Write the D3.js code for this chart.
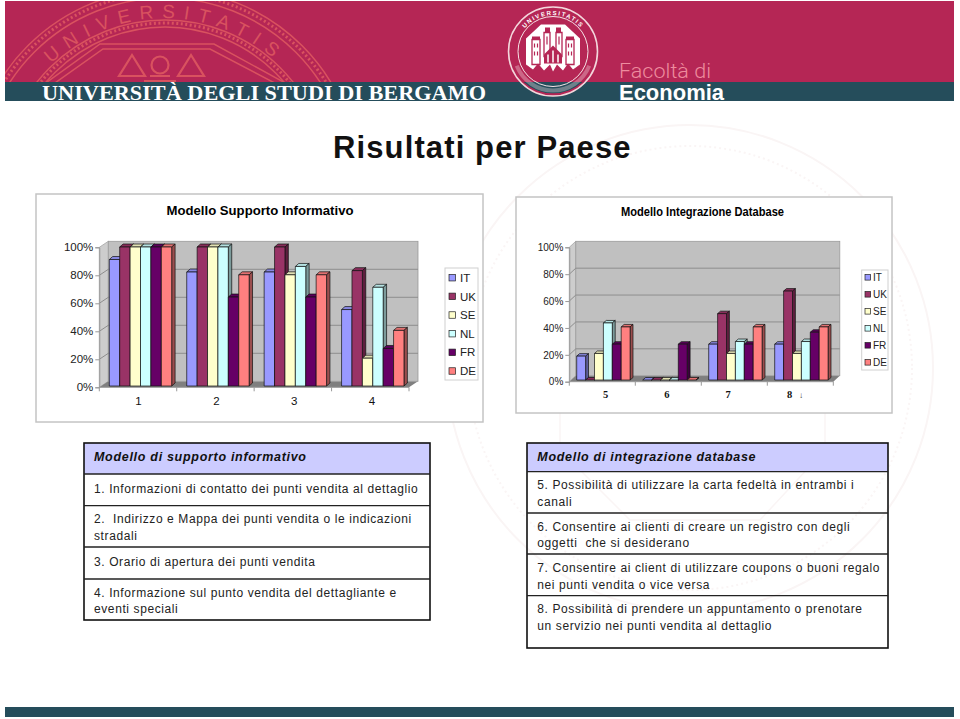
<!DOCTYPE html>
<html><head><meta charset="utf-8">
<script src="https://cdn.jsdelivr.net/npm/d3@7/dist/d3.min.js"></script>
<style>html,body{margin:0;padding:0;background:#fff}svg{display:block}text{font-family:"Liberation Sans",Arial,sans-serif;white-space:pre}</style>
</head><body><svg id="c" width="960" height="719"></svg>
<script>
// ---------- data ----------
const seriesNames = ["IT","UK","SE","NL","FR","DE"];
const seriesColors = ["#9999FF","#993366","#FFFFCC","#CCFFFF","#660066","#FF8080"];
const tickValues = [0,20,40,60,80,100];
const categoriesA = ["1","2","3","4"];
const supportIT = [91,82,82,55];
const supportUK = [100,100,100,83];
const supportSE = [100,100,80,20];
const supportNL = [100,100,86,71];
const supportFR = [100,64,64,27];
const supportDE = [100,80,80,40];
const categoriesB = ["5","6","7","8"];
const integrationIT = [18,0,27,27];
const integrationUK = [0,0,50,67];
const integrationSE = [20,0,20,20];
const integrationNL = [43,0,29,29];
const integrationFR = [27,27,27,36];
const integrationDE = [40,0,40,40];
const tableAHeader = "Modello di supporto informativo";
const tableARows = [["1. Informazioni di contatto dei punti vendita al dettaglio"],
 ["2.  Indirizzo e Mappa dei punti vendita o le indicazioni","stradali"],
 ["3. Orario di apertura dei punti vendita"],
 ["4. Informazione sul punto vendita del dettagliante e","eventi speciali"]];
const tableBHeader = "Modello di integrazione database";
const tableBRows = [["5. Possibilità di utilizzare la carta fedeltà in entrambi i","canali"],
 ["6. Consentire ai clienti di creare un registro con degli","oggetti  che si desiderano"],
 ["7. Consentire ai client di utilizzare coupons o buoni regalo","nei punti vendita o vice versa"],
 ["8. Possibilità di prendere un appuntamento o prenotare","un servizio nei punti vendita al dettaglio"]];

const svg = d3.select("#c");
const CRIM="#B52655", TEAL="#254D5B", PINK="#D9525F";

// ---------- page watermark ----------
const wm = svg.append("g").attr("fill","none").attr("stroke","#FAF5F5");
wm.append("circle").attr("cx",690).attr("cy",368).attr("r",243).attr("stroke-width",2);
wm.append("circle").attr("cx",690).attr("cy",368).attr("r",222).attr("stroke-width",2).attr("stroke-dasharray","2 3");
wm.append("path").attr("d","M560 290L630 230H760L825 290V450L760 520H630L560 450Z").attr("stroke-width",1.5);

// ---------- banner ----------
svg.append("rect").attr("x",5).attr("y",1).attr("width",949).attr("height",81).attr("fill",CRIM);
svg.append("rect").attr("x",5).attr("y",82).attr("width",949).attr("height",19).attr("fill",TEAL);
svg.append("rect").attr("x",5).attr("y",707).attr("width",949).attr("height",10).attr("fill",TEAL);
const defs = svg.append("defs");
defs.append("clipPath").attr("id","bclip").append("rect").attr("x",5).attr("y",1).attr("width",949).attr("height",81);
const big = svg.append("g").attr("clip-path","url(#bclip)").attr("fill","none").attr("stroke",PINK);
const CX=165,CY=183;
[[194,1.5,null],[190,3,"2 2.5"],[185,1.5,null],[163,1.5,null],[160,3,"2 2.5"],[156,1.5,null]].forEach(([r,w,d])=>
  big.append("circle").attr("cx",CX).attr("cy",CY).attr("r",r).attr("stroke-width",w).attr("stroke-dasharray",d));
big.append("path").attr("d","M36 90L100 44H214L298 90").attr("stroke-width",1.5);
big.append("path").attr("d","M45 90L103 49H210L288 90").attr("stroke-width",1.5);
big.append("path").attr("d","M132 55L119 76H145ZM191 55L178 76H204Z").attr("stroke-width",2.2);
big.append("circle").attr("cx",160).attr("cy",65).attr("r",8.5).attr("stroke-width",2.2);
big.append("path").attr("d","M150 76H170M144 81H176").attr("stroke-width",2.2);
defs.append("path").attr("id","bigArc").attr("d",`M${CX-165} ${CY}A165 165 0 0 1 ${CX+165} ${CY}`);
svg.append("text").attr("font-size",19).attr("fill",PINK).attr("letter-spacing",8.5)
  .attr("text-anchor","middle").append("textPath").attr("href","#bigArc").attr("startOffset","50%").text("UNIVERSITATIS");

svg.append("text").attr("x",42).attr("y",100).attr("font-size",22).attr("font-weight",700).attr("fill","#fff")
  .style("font-family","'Liberation Serif',serif").attr("textLength",444).attr("lengthAdjust","spacingAndGlyphs").text("UNIVERSITÀ DEGLI STUDI DI BERGAMO");
svg.append("text").attr("x",619).attr("y",78).attr("font-size",20).attr("font-weight",300).attr("fill","#EE8C9E")
  .style("font-family","Roboto,sans-serif").attr("textLength",92).attr("lengthAdjust","spacingAndGlyphs").text("Facoltà di");
svg.append("text").attr("x",619).attr("y",100).attr("font-size",21.5).attr("font-weight",700).attr("fill","#fff")
  .attr("textLength",105).attr("lengthAdjust","spacingAndGlyphs").text("Economia");

// small seal
const seal = svg.append("g").attr("transform","translate(553,51.5)");
seal.append("circle").attr("r",44.5).attr("fill",CRIM).attr("stroke","#F3D7DC").attr("stroke-width",1.6);
seal.append("path").attr("d","M-29.5 30.5H29.5A44 44 0 0 1 -29.5 30.5Z").attr("fill",TEAL);
seal.append("circle").attr("r",35).attr("fill","none").attr("stroke","#F6E3E6").attr("stroke-width",1);
defs.append("path").attr("id","smallArc").attr("d","M-36.5 0A36.5 36.5 0 0 1 36.5 0");
seal.append("text").attr("font-size",6).attr("font-weight",700).attr("fill","#fff").attr("letter-spacing",1.5).attr("text-anchor","middle")
  .append("textPath").attr("href","#smallArc").attr("startOffset","50%").text("UNIVERSITATIS");
seal.append("path").attr("d",d3.arc()({innerRadius:37,outerRadius:41,startAngle:Math.PI*.62,endAngle:Math.PI*1.38})).attr("fill","#F6E3E6").attr("opacity",.35);
seal.append("path").attr("d","M-12 -27H12L27 -13V13L14 24H-14L-27 13V-13Z").attr("fill","#fff");
seal.append("path").attr("d","M-21 -12h8v-3h-8zM13 -12h8v-3h-8zM-8 -19h5v-5h-5zM3 -19h5v-5h-5z").attr("fill",CRIM);
seal.append("path").attr("d","M-21 -12h8V13h-8zM13 -12h8V13h-8zM-9 -19h6V5h-6zM3 -19h6V5h-6z").attr("fill","none").attr("stroke",CRIM).attr("stroke-width",1.3);
seal.append("path").attr("d","M-18.5 -8v4M-15.5 -8v4M-18.5 0v4M-15.5 0v4M15.5 -8v4M18.5 -8v4M15.5 0v4M18.5 0v4M-6 -15v8M6 -15v8").attr("stroke",CRIM).attr("stroke-width",1.2);
seal.append("path").attr("d","M-9 3L0 -6L9 3V12H-9Z").attr("fill",CRIM);
seal.append("path").attr("d","M-5 3v8M0 -1v12M5 3v8").attr("stroke","#fff").attr("stroke-width",1.5);
seal.append("path").attr("d","M-27 13L-20 18L-15 12L-9 19L-3 13L0 20L4 13L10 19L15 12L20 18L27 13L15 25H-15Z").attr("fill",CRIM);

// ---------- title ----------
svg.append("text").attr("x",333).attr("y",158).attr("font-size",31).attr("font-weight",700).attr("fill","#111")
  .attr("letter-spacing",1.12).text("Risultati per Paese");

// ---------- chart ----------
function chart(cfg){
  const g = svg.append("g");
  const p = cfg.panel;
  g.append("rect").attr("x",p[0]).attr("y",p[1]).attr("width",p[2]-p[0]).attr("height",p[3]-p[1]).attr("fill","#fff").attr("stroke","#C4C4C4").attr("stroke-width",1.5);
  g.append("text").attr("x",cfg.titleX).attr("y",cfg.titleY).attr("font-size",cfg.titleSize).attr("font-weight",700)
    .attr("textLength",cfg.titleW).attr("lengthAdjust","spacingAndGlyphs").text(cfg.title);
  const [xl,xr]=cfg.xRange, [yb,yt]=cfg.yRange, wd=cfg.wall[0], wh=cfg.wall[1];
  const y = d3.scaleLinear().domain([0,100]).range([yb,yt]);
  const yTick = d3.scaleLinear().domain([0,100]).range(cfg.axisY);
  const x = d3.scaleBand().domain(cfg.cats).range([xl,xr]);
  const inner = d3.scaleBand().domain(seriesNames).range([cfg.pad,cfg.pad+6*cfg.barW]);
  const y0=cfg.axisY[0], y1=cfg.axisY[1];
  // walls
  g.append("path").attr("d",`M${xl} ${y0}L${xl+wd} ${y0-wh}V${y1-wh}L${xl} ${y1}Z`).attr("fill","#CDCDCD").attr("stroke","#A8A8A8").attr("stroke-width",.8);
  g.append("path").attr("d",`M${xl} ${y0}L${xl+wd} ${y0-wh}H${xr+wd}L${xr} ${y0}Z`).attr("fill","#7F7F7F");
  g.append("rect").attr("x",xl+wd).attr("y",y1-wh).attr("width",xr-xl).attr("height",y0-y1).attr("fill","#C0C0C0").attr("stroke","#9A9A9A").attr("stroke-width",.8);
  tickValues.slice(1,-1).forEach(t=>{
    g.append("path").attr("fill","none").attr("stroke","#8E8E8E").attr("stroke-width",1)
      .attr("d",`M${xl} ${yTick(t)}L${xl+wd} ${yTick(t)-wh}H${xr+wd}`);
  });
  // axes
  const ya = g.append("g").attr("transform",`translate(${xl},0)`)
    .call(d3.axisLeft(yTick).tickValues(tickValues).tickFormat(d=>d+"%").tickSize(4).tickPadding(cfg.tickPad));
  ya.select(".domain").attr("stroke","#999");
  ya.selectAll("line").attr("stroke","#999");
  ya.selectAll("text").attr("font-size",cfg.tickSize).attr("fill","#222").style("font-family","'Liberation Sans',sans-serif");
  g.append("path").attr("d",`M${xl} ${y0}H${xr}`).attr("stroke","#999");
  d3.range(5).forEach(i=>g.append("path").attr("d",`M${xl+i*x.step()} ${y0}v4`).attr("stroke","#999"));
  const xa = g.append("g").attr("transform",`translate(0,${cfg.labelY})`)
    .call(d3.axisBottom(d3.scalePoint().domain(cfg.cats).range(cfg.labelRange)).tickSize(0).tickPadding(0));
  xa.select(".domain").remove();
  xa.selectAll("text").attr("dy",0).attr("y",0).attr("font-size",cfg.catSize).attr("fill","#111")
    .attr("font-weight",cfg.catWeight).style("font-family",cfg.catFont);
  // bars
  const d=cfg.depth;
  const shade=(c,k)=>d3.color(c).darker(k).formatHex();
  cfg.cats.forEach((cat,ci)=>{
    seriesNames.forEach((s,si)=>{
      const v=cfg.values[si][ci], bx=x(cat)+inner(s), w=inner.bandwidth(), top=y(v), col=seriesColors[si];
      const b=g.append("g").attr("stroke","#111").attr("stroke-width",.7).attr("stroke-linejoin","round");
      b.append("path").attr("fill",shade(col,.35)).attr("d",`M${bx} ${top}l${d[0]} ${-d[1]}h${w}l${-d[0]} ${d[1]}Z`);
      b.append("path").attr("fill",shade(col,1.4)).attr("d",`M${bx+w} ${top}l${d[0]} ${-d[1]}V${yb-d[1]}L${bx+w} ${yb}Z`);
      b.append("rect").attr("x",bx).attr("y",top).attr("width",w).attr("height",yb-top).attr("fill",col);
    });
  });
  // legend
  const L=cfg.legend;
  g.append("rect").attr("x",L.box[0]).attr("y",L.box[1]).attr("width",L.box[2]-L.box[0]).attr("height",L.box[3]-L.box[1]).attr("fill","#fff").attr("stroke","#D0D0D0");
  const ly=d3.scalePoint().domain(seriesNames).range(L.y);
  seriesNames.forEach((s,i)=>{
    g.append("rect").attr("x",L.sx).attr("y",ly(s)-L.ss/2).attr("width",L.ss).attr("height",L.ss).attr("fill",seriesColors[i]).attr("stroke","#222").attr("stroke-width",.7);
    g.append("text").attr("x",L.tx).attr("y",ly(s)+L.size*.36).attr("font-size",L.size).attr("fill","#222").text(s);
  });
}
chart({panel:[36,194,483,422],title:"Modello Supporto Informativo",titleX:166.5,titleY:215,titleSize:13,titleW:187,
  cats:categoriesA,values:[supportIT,supportUK,supportSE,supportNL,supportFR,supportDE],
  xRange:[99.3,409],yRange:[386,247],axisY:[387.3,247.3],wall:[9,6],pad:10,barW:10.4,depth:[3.4,3],
  tickSize:11.5,tickPad:2,labelY:405,labelRange:[138,371.5],catSize:11.5,catWeight:400,catFont:"'Liberation Sans',sans-serif",
  legend:{box:[445,268,478,380],y:[277.7,371],sx:449,ss:6.5,tx:460,size:11.5}});
chart({panel:[516,197,892,413],title:"Modello Integrazione Database",titleX:621,titleY:216,titleSize:12.5,titleW:163,
  cats:categoriesB,values:[integrationIT,integrationUK,integrationSE,integrationNL,integrationFR,integrationDE],
  xRange:[569.3,833.3],yRange:[380,247.3],axisY:[381.7,247.3],wall:[6.5,6],pad:7.4,barW:8.9,depth:[2.9,2.5],
  tickSize:10,tickPad:2,labelY:398,labelRange:[605,789],catSize:10.5,catWeight:700,catFont:"'Liberation Serif',serif",
  legend:{box:[861.7,270,888,370],y:[277.3,362.3],sx:865,ss:5.6,tx:873,size:10}});
svg.append("text").attr("x",799).attr("y",398).attr("font-size",8).attr("fill","#333").text("↓");

// ---------- tables ----------
function table(cfg){
  const g=svg.append("g");
  const [l,r]=cfg.x, e=cfg.edges;
  g.append("rect").attr("x",l).attr("y",e[0]).attr("width",r-l).attr("height",e[1]-e[0]).attr("fill","#CCCCFF");
  g.append("rect").attr("x",l).attr("y",e[0]).attr("width",r-l).attr("height",e[e.length-1]-e[0]).attr("fill","none").attr("stroke","#111").attr("stroke-width",1.6);
  e.slice(1,-1).forEach(v=>g.append("line").attr("x1",l).attr("x2",r).attr("y1",v).attr("y2",v).attr("stroke","#222").attr("stroke-width",1.3));
  g.append("text").attr("x",cfg.textX).attr("y",cfg.headerY).attr("font-size",12.5).attr("font-weight",700).attr("font-style","italic")
    .attr("letter-spacing",.7).attr("fill","#111").text(cfg.header);
  cfg.rows.forEach((lines,i)=>lines.forEach((t,j)=>{
    g.append("text").attr("x",cfg.textX).attr("y",cfg.baselines[i]+j*cfg.leading).attr("font-size",12)
     .attr("letter-spacing",.6).attr("fill","#222").text(t);
  }));
}
table({x:[84,430],edges:[443,474,505.7,547,579,620],textX:94,headerY:461,header:tableAHeader,rows:tableARows,baselines:[492.7,523.3,565.7,596.7],leading:16.2});
table({x:[527,888],edges:[443,471.7,513,554,595.7,648],textX:537.3,headerY:461,header:tableBHeader,rows:tableBRows,baselines:[489.3,531,572.3,613.3],leading:16.2});
</script></body></html>
